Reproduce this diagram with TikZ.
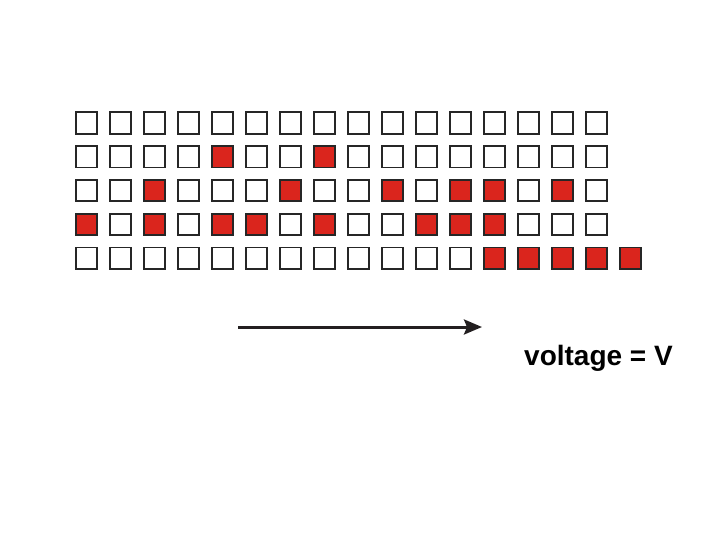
\documentclass[tikz,border=0pt]{standalone}
\usepackage{fontspec}
\setmainfont{Liberation Sans}
\usetikzlibrary{arrows.meta}
\definecolor{cellred}{HTML}{DA251D}
\definecolor{celledge}{HTML}{262626}
\definecolor{arrcol}{HTML}{231F20}
\tikzset{
  cell/.style={draw=celledge, line width=1.8pt, fill=white, minimum size=21.4pt, inner sep=0pt, outer sep=0pt},
  oncell/.style={cell, fill=cellred},
  arr/.style={draw=arrcol, line width=3pt, -{Stealth[length=18pt,width=15pt,inset=3pt]}},
}
\begin{document}
\begin{tikzpicture}[x=1pt,y=-1pt]
\useasboundingbox (0,0) rectangle (720,540);
\foreach \r/\reds in {1/{0},2/{5,8},3/{3,7,10,12,13,15},4/{1,3,5,6,8,11,12,13},5/{13,14,15,16}}{
  \foreach \c in {1,...,16}{
    \def\st{cell}
    \foreach \q in \reds {\ifnum\q=\c\relax\global\def\st{oncell}\fi}
    \node[\st] (c\r-\c) at ({86.5+(\c-1)*34}, {123+(\r-1)*33.8}) {};
    \global\def\st{cell}
  }
}
\node[oncell] (c5-17) at (630.5, {123+4*33.8}) {};
\coordinate (a0) at (238,327);
\coordinate (a1) at (482,327);
\draw[arr] (a0) -- (a1);
\node[font=\bfseries\fontsize{28}{30}\selectfont, anchor=base west, inner sep=0pt] (lbl) at (524,365) {voltage = V};
\end{tikzpicture}
\end{document}
